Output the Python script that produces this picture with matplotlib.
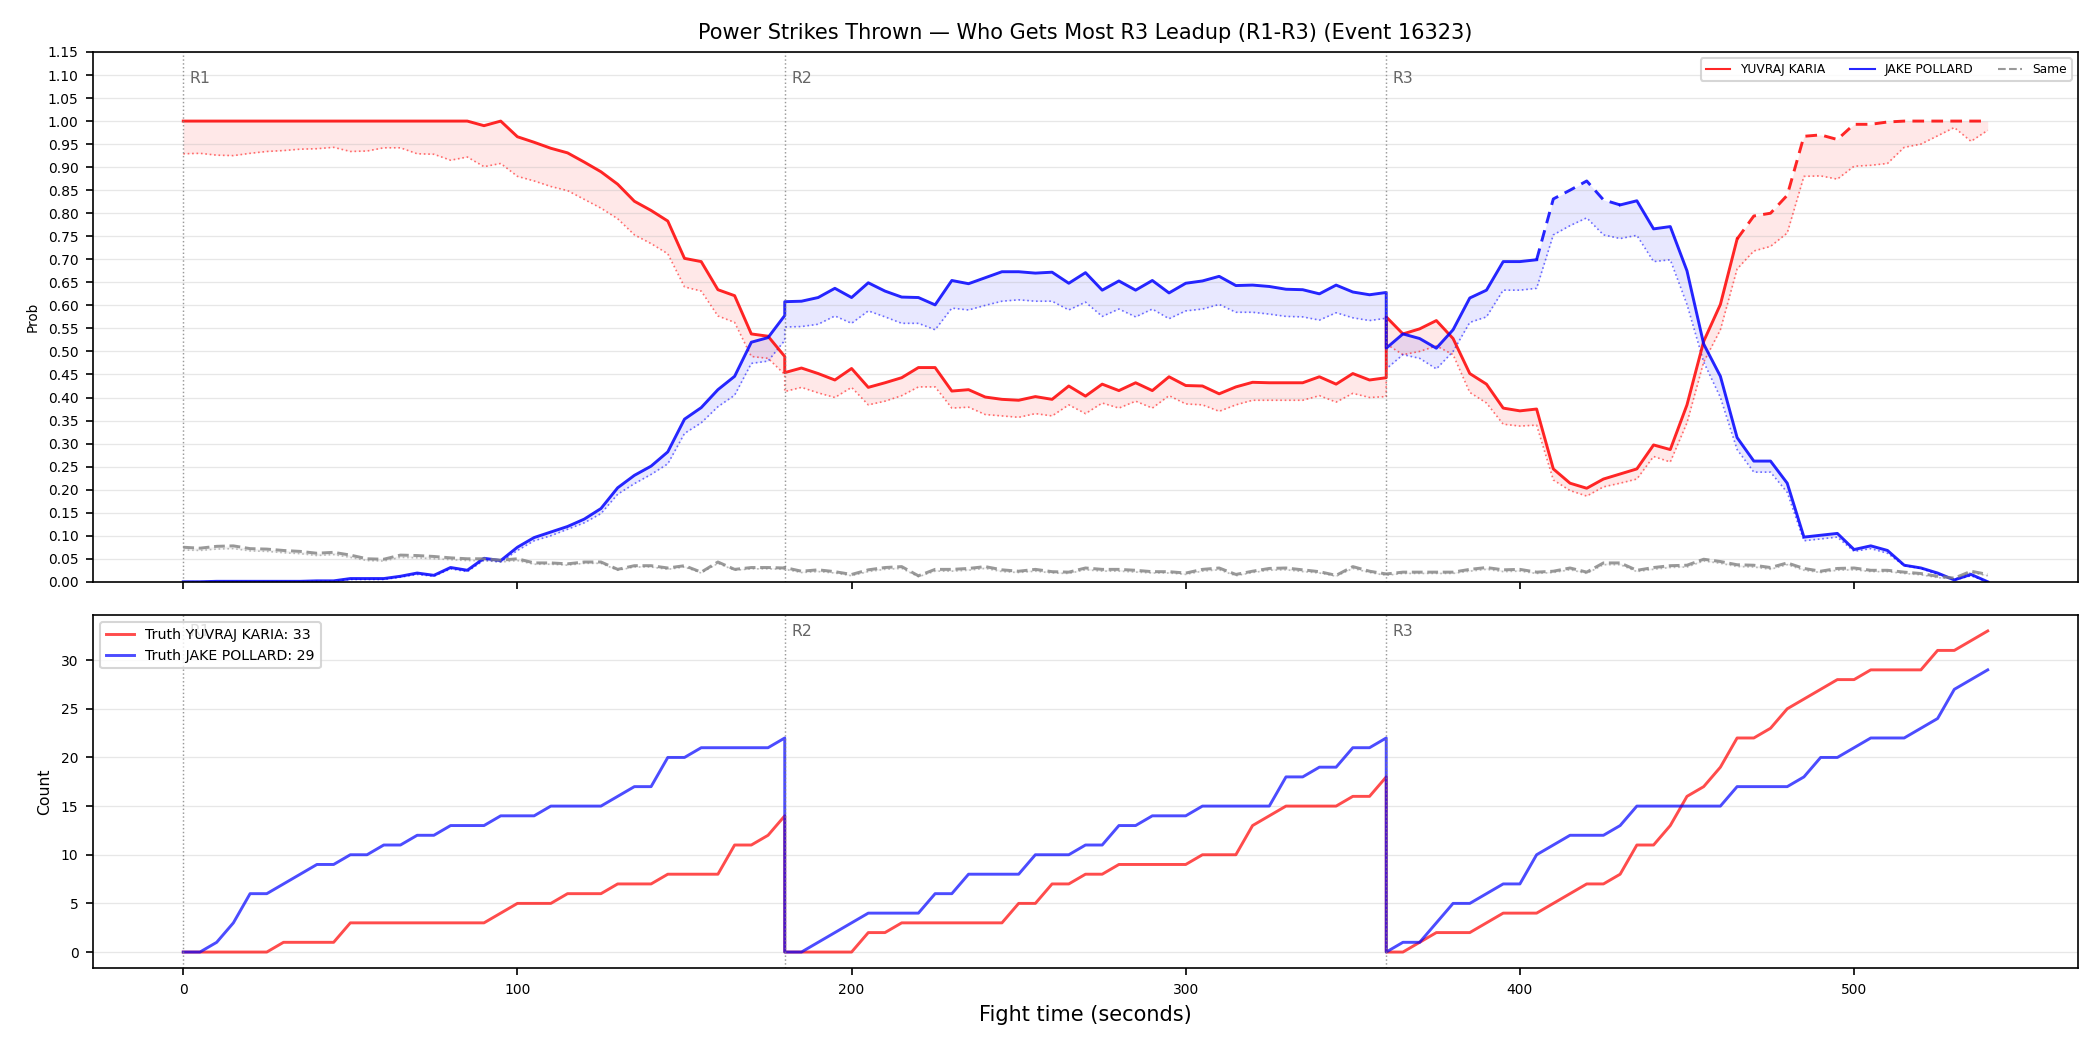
import numpy as np
import matplotlib
matplotlib.use('Agg')
import matplotlib.pyplot as plt
from matplotlib.lines import Line2D
from matplotlib.ticker import FormatStrFormatter

# sample times, 5 s steps, every round starts again at its boundary
round_starts = [0, 180, 360]
round_names = ['R1', 'R2', 'R3']

# --- probabilities (upper line / dotted lower line), per round ---
red_hi_r1 = [1.0, 1.0, 1.0, 1.0, 1.0, 1.0, 1.0, 1.0, 1.0, 1.0, 1.0, 1.0, 1.0, 1.0, 1.0, 1.0, 1.0, 1.0,
             0.99, 1.0, 0.966, 0.954, 0.941, 0.931, 0.911, 0.89, 0.863, 0.826, 0.806, 0.783, 0.702,
             0.695, 0.634, 0.621, 0.538, 0.533, 0.489]
red_lo_r1 = [0.929, 0.93, 0.926, 0.925, 0.93, 0.934, 0.936, 0.939, 0.94, 0.943, 0.934, 0.935, 0.942,
             0.942, 0.929, 0.928, 0.915, 0.922, 0.901, 0.908, 0.88, 0.87, 0.858, 0.849, 0.83, 0.811,
             0.788, 0.753, 0.734, 0.712, 0.64, 0.631, 0.577, 0.563, 0.489, 0.485, 0.45]
blue_hi_r1 = [0, 0, 0.001, 0.001, 0.001, 0.001, 0.001, 0.001, 0.002, 0.002, 0.007, 0.007, 0.007, 0.012,
              0.019, 0.014, 0.031, 0.025, 0.051, 0.046, 0.075, 0.096, 0.108, 0.12, 0.136, 0.159, 0.204,
              0.231, 0.251, 0.282, 0.353, 0.378, 0.417, 0.446, 0.52, 0.53, 0.578]
blue_lo_r1 = [0, 0, 0.0, 0.0, 0.0, 0.0, 0.0, 0.0, 0.001, 0.001, 0.005, 0.005, 0.005, 0.01, 0.016, 0.012,
              0.028, 0.022, 0.047, 0.043, 0.068, 0.089, 0.1, 0.114, 0.128, 0.148, 0.19, 0.213, 0.233,
              0.256, 0.322, 0.345, 0.38, 0.405, 0.474, 0.479, 0.524]
same_hi_r1 = [0.075, 0.073, 0.077, 0.078, 0.072, 0.071, 0.068, 0.066, 0.062, 0.064, 0.058, 0.05, 0.049,
              0.058, 0.057, 0.055, 0.052, 0.05, 0.05, 0.047, 0.05, 0.041, 0.041, 0.039, 0.043, 0.043,
              0.027, 0.035, 0.035, 0.03, 0.035, 0.021, 0.043, 0.027, 0.031, 0.031, 0.03]
same_lo_r1 = [0.069, 0.068, 0.071, 0.072, 0.067, 0.066, 0.063, 0.061, 0.057, 0.059, 0.053, 0.046, 0.045,
              0.053, 0.052, 0.05, 0.048, 0.046, 0.046, 0.043, 0.046, 0.038, 0.038, 0.036, 0.04, 0.04,
              0.025, 0.032, 0.032, 0.027, 0.032, 0.019, 0.04, 0.025, 0.028, 0.028, 0.027]

red_hi_r2 = [0.454, 0.464, 0.452, 0.438, 0.463, 0.422, 0.432, 0.443, 0.465, 0.465, 0.414, 0.417, 0.401,
             0.396, 0.394, 0.402, 0.396, 0.425, 0.403, 0.429, 0.415, 0.432, 0.415, 0.445, 0.426, 0.425,
             0.408, 0.423, 0.433, 0.432, 0.432, 0.432, 0.445, 0.429, 0.452, 0.438, 0.443]
red_lo_r2 = [0.413, 0.422, 0.41, 0.4, 0.422, 0.384, 0.392, 0.404, 0.423, 0.423, 0.377, 0.379, 0.363, 0.36,
             0.357, 0.365, 0.36, 0.384, 0.365, 0.388, 0.377, 0.392, 0.377, 0.404, 0.386, 0.384, 0.37,
             0.384, 0.394, 0.394, 0.394, 0.394, 0.404, 0.39, 0.409, 0.4, 0.402]
blue_hi_r2 = [0.608, 0.609, 0.617, 0.637, 0.617, 0.649, 0.631, 0.618, 0.617, 0.601, 0.654, 0.647, 0.66,
              0.673, 0.673, 0.67, 0.672, 0.648, 0.671, 0.633, 0.653, 0.633, 0.654, 0.627, 0.648, 0.653,
              0.663, 0.643, 0.644, 0.641, 0.635, 0.634, 0.625, 0.644, 0.629, 0.623, 0.628]
blue_lo_r2 = [0.553, 0.554, 0.559, 0.577, 0.561, 0.588, 0.575, 0.561, 0.561, 0.547, 0.594, 0.59, 0.6,
              0.609, 0.612, 0.609, 0.609, 0.59, 0.607, 0.576, 0.592, 0.575, 0.592, 0.571, 0.588, 0.592,
              0.602, 0.585, 0.585, 0.581, 0.576, 0.575, 0.568, 0.584, 0.573, 0.567, 0.572]
same_hi_r2 = [0.031, 0.023, 0.026, 0.022, 0.016, 0.026, 0.031, 0.033, 0.013, 0.027, 0.027, 0.029, 0.033,
              0.026, 0.023, 0.027, 0.022, 0.021, 0.03, 0.027, 0.027, 0.025, 0.022, 0.022, 0.019, 0.027,
              0.03, 0.016, 0.023, 0.029, 0.03, 0.026, 0.022, 0.014, 0.033, 0.023, 0.017]
same_lo_r2 = [0.027, 0.02, 0.022, 0.019, 0.013, 0.022, 0.027, 0.029, 0.011, 0.023, 0.023, 0.025, 0.029,
              0.022, 0.02, 0.023, 0.019, 0.018, 0.026, 0.023, 0.023, 0.021, 0.019, 0.019, 0.016, 0.023,
              0.026, 0.013, 0.02, 0.025, 0.026, 0.022, 0.019, 0.012, 0.029, 0.02, 0.014]

red_hi_r3 = [0.575, 0.538, 0.549, 0.567, 0.528, 0.452, 0.429, 0.377, 0.371, 0.375, 0.245, 0.214, 0.203,
             0.223, 0.234, 0.245, 0.297, 0.287, 0.384, 0.522, 0.602, 0.744, 0.794, 0.8, 0.839, 0.967,
             0.97, 0.96, 0.993, 0.993, 0.998, 1.0, 1.0, 1.0, 1.0, 1.0, 1.0]
red_lo_r3 = [0.516, 0.493, 0.5, 0.512, 0.493, 0.411, 0.388, 0.342, 0.338, 0.34, 0.221, 0.198, 0.186,
             0.206, 0.214, 0.223, 0.272, 0.26, 0.345, 0.477, 0.547, 0.679, 0.718, 0.728, 0.757, 0.88,
             0.881, 0.874, 0.902, 0.904, 0.908, 0.943, 0.95, 0.968, 0.986, 0.956, 0.98]
blue_hi_r3 = [0.507, 0.538, 0.528, 0.507, 0.547, 0.616, 0.633, 0.695, 0.695, 0.699, 0.831, 0.85, 0.87,
              0.829, 0.818, 0.827, 0.766, 0.771, 0.675, 0.516, 0.446, 0.313, 0.262, 0.262, 0.214, 0.097,
              0.101, 0.105, 0.07, 0.078, 0.068, 0.036, 0.03, 0.019, 0.004, 0.016, 0.0]
blue_lo_r3 = [0.462, 0.493, 0.485, 0.462, 0.5, 0.563, 0.575, 0.633, 0.633, 0.637, 0.753, 0.773, 0.79,
              0.753, 0.745, 0.752, 0.695, 0.699, 0.602, 0.477, 0.4, 0.287, 0.238, 0.238, 0.194, 0.089,
              0.093, 0.097, 0.066, 0.072, 0.062, 0.035, 0.029, 0.016, 0.004, 0.013, 0.0]
same_hi_r3 = [0.017, 0.021, 0.021, 0.021, 0.021, 0.027, 0.031, 0.026, 0.027, 0.021, 0.023, 0.03, 0.021,
              0.041, 0.041, 0.025, 0.031, 0.035, 0.036, 0.049, 0.044, 0.037, 0.036, 0.031, 0.041, 0.029,
              0.023, 0.029, 0.03, 0.025, 0.025, 0.021, 0.018, 0.012, 0.008, 0.023, 0.016]
same_lo_r3 = [0.014, 0.018, 0.018, 0.018, 0.018, 0.023, 0.027, 0.022, 0.023, 0.018, 0.02, 0.026, 0.018,
              0.037, 0.037, 0.022, 0.027, 0.031, 0.032, 0.045, 0.04, 0.033, 0.032, 0.027, 0.037, 0.025,
              0.02, 0.025, 0.026, 0.022, 0.022, 0.018, 0.015, 0.009, 0.006, 0.02, 0.013]

# --- running truth counts per round ---
red_cnt_r1 = [0, 0, 0, 0, 0, 0, 1, 1, 1, 1, 3, 3, 3, 3, 3, 3, 3, 3, 3, 4, 5, 5, 5, 6, 6, 6, 7, 7, 7,
              8, 8, 8, 8, 11, 11, 12, 14]
blue_cnt_r1 = [0, 0, 1, 3, 6, 6, 7, 8, 9, 9, 10, 10, 11, 11, 12, 12, 13, 13, 13, 14, 14, 14, 15, 15, 15,
               15, 16, 17, 17, 20, 20, 21, 21, 21, 21, 21, 22]
red_cnt_r2 = [0, 0, 0, 0, 0, 2, 2, 3, 3, 3, 3, 3, 3, 3, 5, 5, 7, 7, 8, 8, 9, 9, 9, 9, 9, 10, 10, 10, 13,
              14, 15, 15, 15, 15, 16, 16, 18]
blue_cnt_r2 = [0, 0, 1, 2, 3, 4, 4, 4, 4, 6, 6, 8, 8, 8, 8, 10, 10, 10, 11, 11, 13, 13, 14, 14, 14, 15,
               15, 15, 15, 15, 18, 18, 19, 19, 21, 21, 22]
red_cnt_r3 = [0, 0, 1, 2, 2, 2, 3, 4, 4, 4, 5, 6, 7, 7, 8, 11, 11, 13, 16, 17, 19, 22, 22, 23, 25, 26,
              27, 28, 28, 29, 29, 29, 29, 31, 31, 32, 33]
blue_cnt_r3 = [0, 1, 1, 3, 5, 5, 6, 7, 7, 10, 11, 12, 12, 12, 13, 15, 15, 15, 15, 15, 15, 17, 17, 17, 17,
               18, 20, 20, 21, 22, 22, 22, 23, 24, 27, 28, 29]

red_name = 'YUVRAJ KARIA'
blue_name = 'JAKE POLLARD'

t = np.concatenate([np.arange(s, s + 181, 5) for s in round_starts])
red_hi = np.array(red_hi_r1 + red_hi_r2 + red_hi_r3)
red_lo = np.array(red_lo_r1 + red_lo_r2 + red_lo_r3)
blue_hi = np.array(blue_hi_r1 + blue_hi_r2 + blue_hi_r3)
blue_lo = np.array(blue_lo_r1 + blue_lo_r2 + blue_lo_r3)
same_hi = np.array(same_hi_r1 + same_hi_r2 + same_hi_r3)
same_lo = np.array(same_lo_r1 + same_lo_r2 + same_lo_r3)
red_cnt = np.array(red_cnt_r1 + red_cnt_r2 + red_cnt_r3)
blue_cnt = np.array(blue_cnt_r1 + blue_cnt_r2 + blue_cnt_r3)

RED = '#ff0000'
BLUE = '#0000ff'


def plot_split(ax, x, y, color, dash_from, dash_to):
    # solid everywhere except inside the dashed stretch
    inner = (x > dash_from) & (x < dash_to)
    run = (x >= dash_from) & (x <= dash_to)
    ax.plot(x, np.where(inner, np.nan, y), color=color, lw=1.4, alpha=0.85)
    ax.plot(x, np.where(run, y, np.nan), color=color, lw=1.4, alpha=0.85, ls=(0, (4, 2.5)))


fig, (ax1, ax2) = plt.subplots(2, 1, figsize=(14, 7), dpi=150, sharex=True,
                               gridspec_kw={'height_ratios': [1.5, 1]})
fig.subplots_adjust(left=0.0443, right=0.9895, top=0.9505, bottom=0.078, hspace=0.075)

# top panel: probabilities
ax1.fill_between(t, red_lo, red_hi, color=RED, alpha=0.09, lw=0)
ax1.fill_between(t, blue_lo, blue_hi, color=BLUE, alpha=0.09, lw=0)
ax1.fill_between(t, same_lo, same_hi, color='gray', alpha=0.1, lw=0)
ax1.plot(t, red_lo, color=RED, lw=0.8, ls=':', alpha=0.55)
ax1.plot(t, blue_lo, color=BLUE, lw=0.8, ls=':', alpha=0.55)
ax1.plot(t, same_lo, color='gray', lw=0.8, ls=':', alpha=0.5)
plot_split(ax1, t, red_hi, RED, 465, 540)
plot_split(ax1, t, blue_hi, BLUE, 405, 430)
ax1.plot(t, same_hi, color='gray', lw=1.4, ls='--', alpha=0.8)

ax1.set_ylim(0, 1.15)
ax1.set_yticks(np.arange(0, 1.151, 0.05))
ax1.yaxis.set_major_formatter(FormatStrFormatter('%.2f'))
ax1.set_ylabel('Prob', fontsize=6.5)
ax1.set_title('Power Strikes Thrown — Who Gets Most R3 Leadup (R1-R3) (Event 16323)', fontsize=10)
ax1.grid(axis='y', alpha=0.3, lw=0.6)
ax1.tick_params(labelsize=6.7)

handles = [Line2D([], [], color=RED, lw=1, alpha=0.85),
           Line2D([], [], color=BLUE, lw=1, alpha=0.85),
           Line2D([], [], color='gray', lw=1, ls='--', alpha=0.8)]
ax1.legend(handles, [red_name, blue_name, 'Same'], loc='upper right', ncol=3, fontsize=5.9)

# bottom panel: counts
ax2.plot(t, red_cnt, color=RED, lw=1.4, alpha=0.7, label=f'Truth {red_name}: {red_cnt[-1]}')
ax2.plot(t, blue_cnt, color=BLUE, lw=1.4, alpha=0.7, label=f'Truth {blue_name}: {blue_cnt[-1]}')
ax2.set_ylabel('Count', fontsize=7.5)
ax2.set_xlabel('Fight time (seconds)', fontsize=10)
ax2.grid(axis='y', alpha=0.3, lw=0.6)
ax2.tick_params(labelsize=6.7)

for ax, ytop in ((ax1, 0.965), (ax2, 0.975)):
    for x0, name in zip(round_starts, round_names):
        ax.axvline(x0, color='gray', ls=':', lw=0.7, alpha=0.8)
        ax.text(x0 + 2, ytop, name, transform=ax.get_xaxis_transform(), va='top', ha='left',
                fontsize=7.5, color='#666666')

ax2.legend(loc='upper left', fontsize=6.8)

fig.savefig('out.png', dpi=150)
